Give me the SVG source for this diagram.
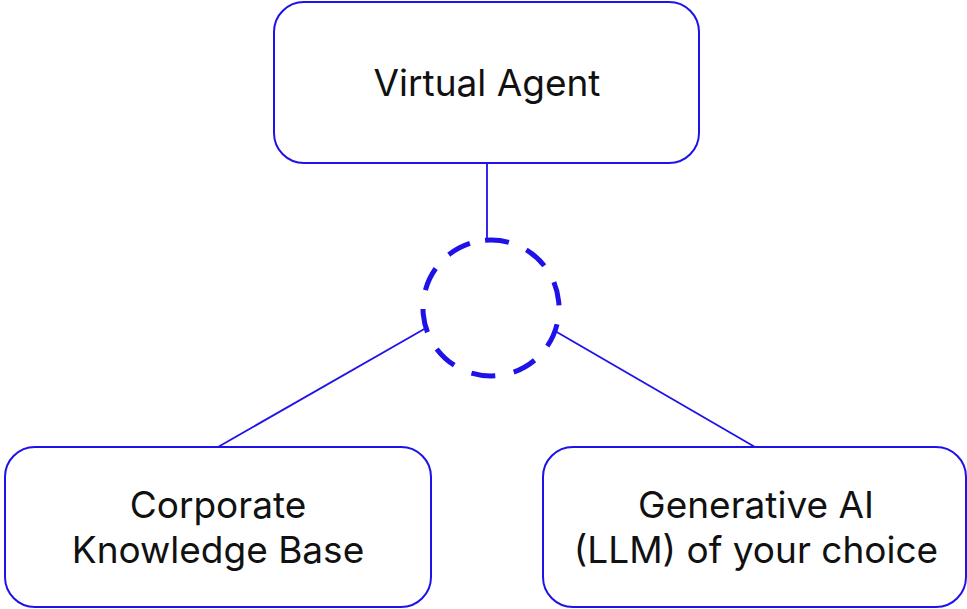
<svg xmlns="http://www.w3.org/2000/svg" width="967" height="609" viewBox="0 0 967 609">
<style>
.box{fill:#fff;stroke:#1f12e8;stroke-width:2}
.lbl{font-family:Inter,"Liberation Sans",sans-serif;font-size:37px;font-weight:400;fill:#111;text-anchor:middle}
.con{stroke:#1f12e8;stroke-width:1.8;fill:none}
</style>
<rect width="967" height="609" fill="#fff"/>
<g id="connectors">
<line class="con" x1="487" y1="163" x2="487" y2="240"/>
<line class="con" x1="426" y1="328" x2="218" y2="447"/>
<line class="con" x1="555" y1="331" x2="755" y2="447"/>
</g>
<g id="hub">
<circle cx="491" cy="308" r="68" fill="none" stroke="#1f12e8" stroke-width="5" stroke-dasharray="24 19" transform="rotate(-95 491 308)"/>
</g>
<g id="virtual-agent">
<rect class="box" x="274" y="2" width="425" height="161" rx="30"/>
<text class="lbl" x="487" y="96">Virtual Agent</text>
</g>
<g id="knowledge-base">
<rect class="box" x="5" y="447" width="426" height="160" rx="30"/>
<text class="lbl" x="218" y="518">Corporate</text>
<text class="lbl" x="218" y="563">Knowledge Base</text>
</g>
<g id="llm">
<rect class="box" x="543" y="447" width="423" height="160" rx="30"/>
<text class="lbl" x="756" y="518">Generative AI</text>
<text class="lbl" x="756" y="563">(LLM) of your choice</text>
</g>
</svg>
